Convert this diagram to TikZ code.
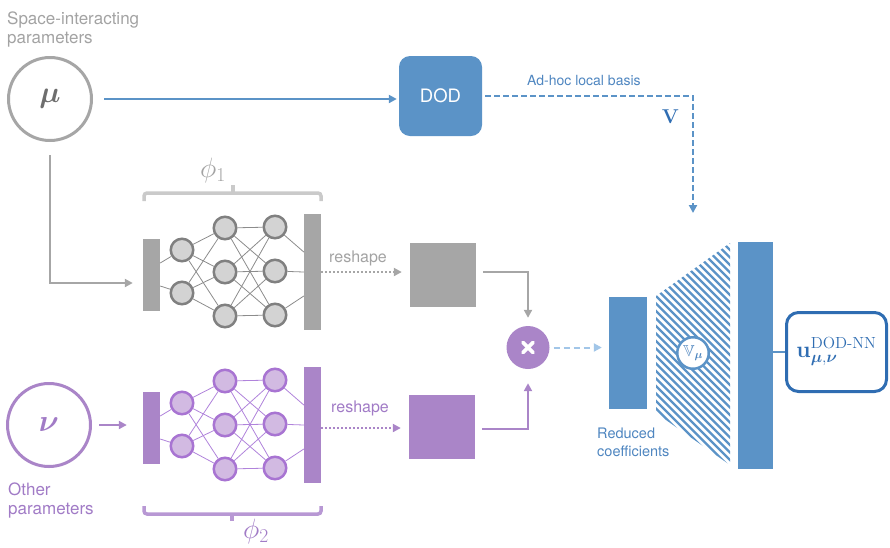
\RequirePackage{fix-cm}
\documentclass[tikz,border=0pt]{standalone}
\usepackage{amsmath,amssymb}
\usepackage[no-math]{fontspec}
\setmainfont{TeX Gyre Heros}
\usetikzlibrary{arrows.meta}

\definecolor{cgray}{HTML}{A6A6A6}
\definecolor{ngray}{HTML}{D3D3D3}
\definecolor{bgray}{HTML}{808080}
\definecolor{egray}{HTML}{8C8C8C}
\definecolor{tgray}{HTML}{A3A3A3}
\definecolor{brgray}{HTML}{CACACA}
\definecolor{mgray}{HTML}{6E6E6E}
\definecolor{cpurple}{HTML}{AA85C8}
\definecolor{npurple}{HTML}{D2BAE2}
\definecolor{bpurple}{HTML}{A874D2}
\definecolor{epurple}{HTML}{B083DB}
\definecolor{tpurple}{HTML}{A17BC6}
\definecolor{brpurple}{HTML}{B898D4}
\definecolor{mblue}{HTML}{5B93C7}
\definecolor{lblue}{HTML}{A2C6E8}
\definecolor{dblue}{HTML}{2F6DB2}
\definecolor{tblue}{HTML}{4F86C0}

% one feed-forward network: prefix, vertical offset, neuron style, bar style, edge style
\newcommand\neuralnet[5]{%
  \node[#4, minimum height=72pt] (#1-in) at (151.5,{275+#2}) {};
  \node[#3] (#1-a1) at (182,{250+#2}) {};
  \node[#3] (#1-a2) at (182,{293+#2}) {};
  \foreach \k/\y in {1/228,2/272,3/316} {
    \node[#3] (#1-b\k) at (225,{\y+#2}) {};
    \node[#3] (#1-c\k) at (275,{\y+#2-1}) {};
  }
  \node[#4, minimum height=116pt] (#1-out) at (312.5,{272+#2}) {};
  \draw[#5] ([yshift=12pt]#1-in.east) -- (#1-a1);
  \draw[#5] ([yshift=-11pt]#1-in.east) -- (#1-a2);
  \foreach \i in {1,2} \foreach \j in {1,2,3} \draw[#5] (#1-a\i) -- (#1-b\j);
  \foreach \i in {1,2,3} \foreach \j in {1,2,3} \draw[#5] (#1-b\i) -- (#1-c\j);
  \draw[#5] (#1-c1) -- ([yshift=20pt]#1-out.west);
  \draw[#5] (#1-c2) -- (#1-out.west);
  \draw[#5] (#1-c3) -- ([yshift=-24pt]#1-out.west);
}

\begin{document}
\begin{tikzpicture}[x=1pt,y=-1pt,
  tip/.style={-{Triangle[length=8pt,width=8pt]}},
  neurong/.style={circle, inner sep=0pt, minimum size=22.5pt, line width=2.5pt, draw=bgray, fill=ngray},
  neuronp/.style={circle, inner sep=0pt, minimum size=22.5pt, line width=2.5pt, draw=bpurple, fill=npurple},
  barg/.style={rectangle, inner sep=0pt, minimum width=17pt, fill=cgray},
  barp/.style={rectangle, inner sep=0pt, minimum width=17pt, fill=cpurple},
  edgeg/.style={egray, line width=0.8pt},
  edgep/.style={epurple, line width=0.8pt},
  param/.style={circle, inner sep=0pt, minimum size=83pt, line width=3pt, fill=white},
  label/.style={inner sep=0pt, align=left, anchor=base west},
  conn/.style={line width=2pt},
]
\useasboundingbox (0,0) rectangle (890,547);

% input parameters (multi-line labels are placed by the baseline of their last line)
\node[label, text=tgray, font=\fontsize{17}{19}\selectfont] (spacelbl) at (7,43) {Space-interacting\\parameters};
\node[param, draw=cgray, text=mgray, font=\fontsize{30}{30}\selectfont] (mu) at (50,99) {$\boldsymbol{\mu}$};
\node[param, draw=cpurple, text=tpurple, font=\fontsize{31}{31}\selectfont] (nu) at (49,425) {$\boldsymbol{\nu}$};
\node[label, text=tpurple, font=\fontsize{17}{19}\selectfont] (otherlbl) at (8,514) {Other\\parameters};

% DOD block and local basis
\node[rectangle, rounded corners=11pt, fill=mblue, minimum width=83pt, minimum height=80pt,
      text=white, font=\fontsize{18.5}{18.5}\selectfont] (dod) at (440.5,96) {DOD};
\draw[conn, mblue, tip, shorten <=11pt, shorten >=2pt] (mu.east) -- (mu.east -| dod.west);
\coordinate (vtip) at (693,213);
\draw[conn, mblue, dash pattern=on 6pt off 3pt, tip, shorten <=3pt] (dod.east) -| (vtip);
\node[inner sep=0pt, anchor=base west, text=tblue, font=\fontsize{14}{14}\selectfont] (adhoc) at (527,85) {Ad-hoc local basis};
\node[inner sep=0pt, text=dblue, font=\fontsize{20}{20}\selectfont] (vlbl) at (670.5,117) {$\mathbf{V}$};

% the two networks
\neuralnet{g}{0}{neurong}{barg}{edgeg}
\neuralnet{p}{153}{neuronp}{barp}{edgep}

% braces and network labels
\draw[brgray, line width=3.5pt, rounded corners=3pt] (144,201) -- (144,193) -- (321,193) -- (321,201);
\draw[brgray, line width=3.5pt] (233,194) -- (233,185);
\node[inner sep=0pt, text=tgray, font=\fontsize{28}{28}\selectfont] (phi1) at (213,170) {$\phi_1$};
\draw[brpurple, line width=3.5pt, rounded corners=3pt] (144,506) -- (144,514) -- (321,514) -- (321,506);
\draw[brpurple, line width=3.5pt] (232,513) -- (232,521);
\node[inner sep=0pt, text=tpurple, font=\fontsize{28}{28}\selectfont] (phi2) at (256,531) {$\phi_2$};

% parameters into networks
\draw[conn, cgray, tip, shorten <=13pt, shorten >=10pt] (mu.south) |- ([yshift=-8pt]g-in.west);
\draw[conn, cpurple, tip, shorten <=7pt, shorten >=16pt] (nu.east) -- (nu.east -| p-in.west);

% reshaped outputs
\node[rectangle, inner sep=0pt, minimum width=66pt, minimum height=64pt, fill=cgray] (g-sq) at (443,275) {};
\node[rectangle, inner sep=0pt, minimum width=66pt, minimum height=64pt, fill=cpurple] (p-sq) at (442,427) {};
\draw[cgray, line width=2.5pt, dash pattern=on 2pt off 2pt, tip, shorten >=8pt] (g-out.east) -- (g-out.east -| g-sq.west);
\draw[cpurple, line width=2.5pt, dash pattern=on 2pt off 2pt, tip, shorten >=8pt] ([yshift=-3pt]p-out.east) -- ([yshift=-3pt]p-out.east -| p-sq.west);
\node[label, text=tgray, font=\fontsize{16}{16}\selectfont] (rs1) at (329,262) {reshape};
\node[label, text=tpurple, font=\fontsize{16}{16}\selectfont] (rs2) at (331,412) {reshape};

% product of the two outputs
\node[circle, inner sep=0pt, minimum size=43pt, fill=cpurple] (mul) at (528,347.5) {};
\draw[white, line width=3.8pt, line cap=round] ([shift={(-5pt,-5pt)}]mul.center) -- ([shift={(5pt,5pt)}]mul.center);
\draw[white, line width=3.8pt, line cap=round] ([shift={(-5pt,5pt)}]mul.center) -- ([shift={(5pt,-5pt)}]mul.center);
\draw[conn, cgray, tip, shorten <=7pt, shorten >=8pt] ([yshift=3pt]g-sq.east) -| (mul.north);
\draw[conn, cpurple, tip, shorten <=7pt, shorten >=14pt] ([yshift=-2pt]p-sq.east) -| (mul.south);

% reduced coefficients and decoder
\node[rectangle, inner sep=0pt, minimum width=38pt, minimum height=112pt, fill=mblue] (red) at (628,353) {};
\draw[conn, lblue, dash pattern=on 6pt off 4pt, tip, shorten <=4pt, shorten >=7pt] (mul.east) -- (mul.east -| red.west);
\node[label, text=tblue, font=\fontsize{14.5}{18}\selectfont] (redlbl) at (597,456) {Reduced\\coefficients};

\begin{scope}
  \clip (656,296) -- (730,243) -- (730,465) -- (656,413) -- cycle;
  \foreach \c in {-495,-487.5,...,-230} \draw[mblue, line width=2.3pt] (640,{640+\c}) -- (750,{750+\c});
\end{scope}
\node[circle, inner sep=0pt, minimum size=31.5pt, line width=2.5pt, draw=mblue, fill=white,
      text=tblue, font=\fontsize{16}{16}\selectfont] (vmu) at (693,353) {$\mathbb{V}_{\boldsymbol{\mu}}$};

\node[rectangle, inner sep=0pt, minimum width=35pt, minimum height=227pt, fill=mblue] (big) at (755.5,355.5) {};
\node[rectangle, rounded corners=12pt, line width=3pt, draw=dblue, fill=white, minimum width=100pt, minimum height=79pt,
      text=dblue, font=\fontsize{23}{23}\selectfont] (out) at (836.5,352)
      {$\mathbf{u}^{\mathrm{DOD}\mathchar"002D\mathrm{NN}}_{\boldsymbol{\mu},\boldsymbol{\nu}}$};
\draw[mblue, line width=1.5pt] (out.west -| big.east) -- (out.west);
\end{tikzpicture}
\end{document}
